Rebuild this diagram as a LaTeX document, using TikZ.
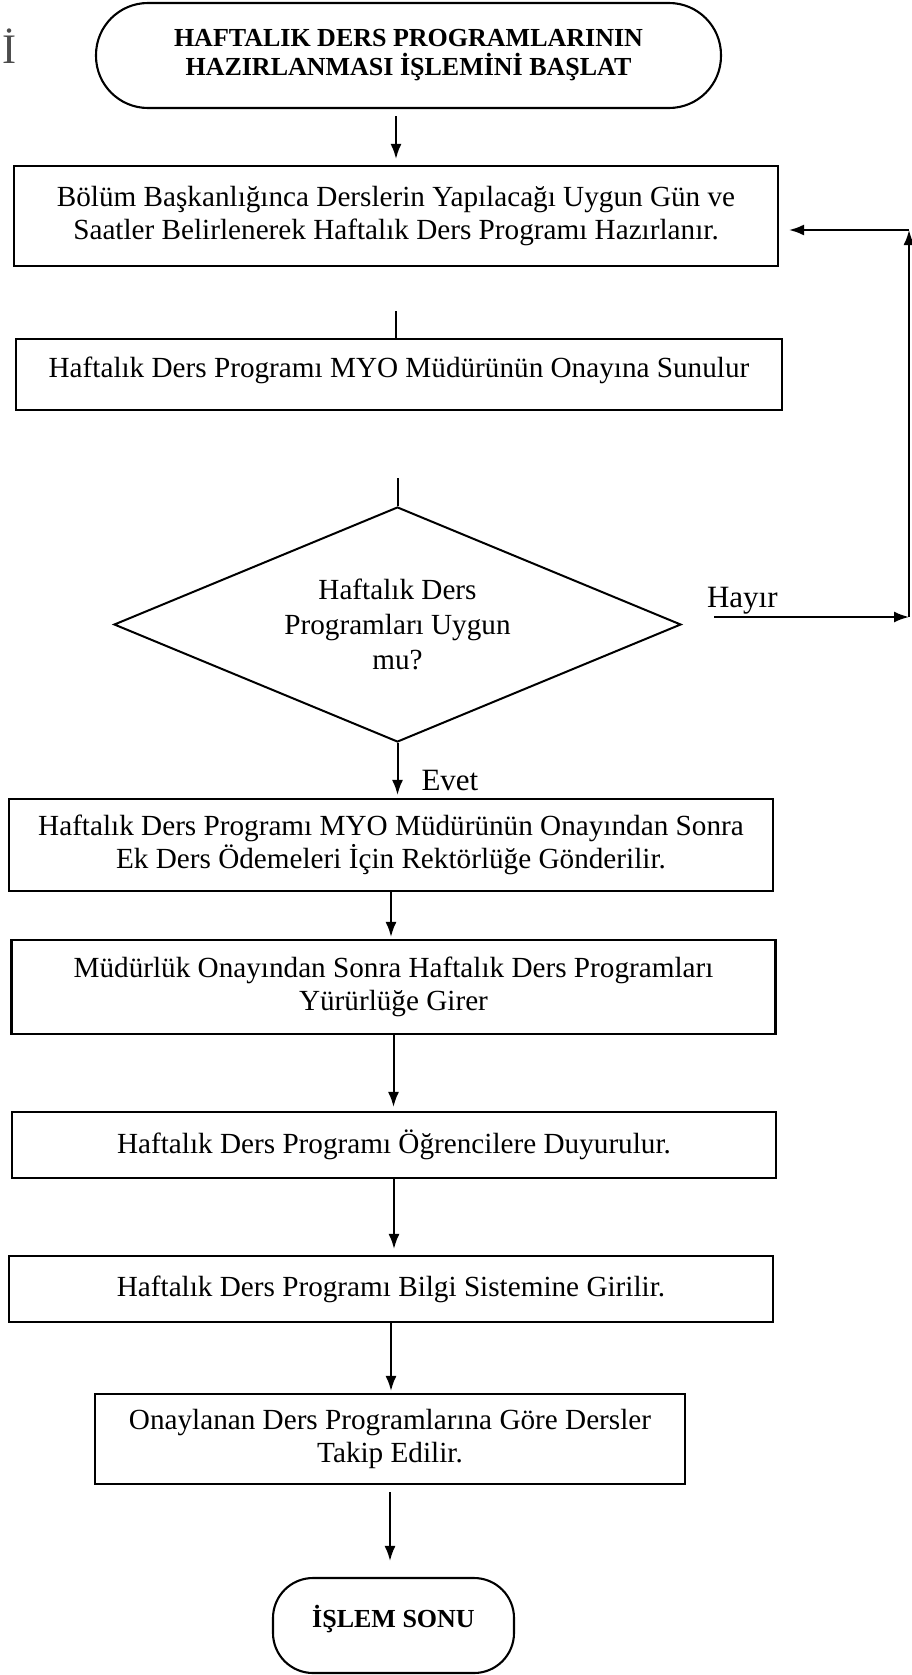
\documentclass[tikz,border=0pt]{standalone}
\usepackage{fontspec}
\setmainfont{Liberation Serif}
\usetikzlibrary{shapes.geometric,arrows.meta}

\tikzset{
    stepbox/.style={draw, line width=1.05pt, minimum width=382pt, align=center, inner sep=2pt, font=\fontsize{14.6}{16.8}\selectfont},
    terminal/.style={draw, line width=1.05pt, align=center, font=\fontsize{13}{14.5}\selectfont\bfseries},
    flow/.style={line width=1pt},
    arr/.style={flow, -{Latex[length=7.5pt,width=5.5pt]}},
    lbl/.style={font=\fontsize{15.5}{17}\selectfont, inner sep=0pt}
}

\begin{document}
\begin{tikzpicture}[x=0.5pt, y=-0.5pt]
        \useasboundingbox (0,0) rectangle (911,1675);

        \node[text=black!70, font=\fontsize{21}{21}\selectfont, inner sep=0pt] (stray) at (9,46) {İ};

        \node[terminal, minimum width=312.5pt, minimum height=52.5pt, rounded corners=26pt] (start) at (408.5,55.5) {HAFTALIK DERS PROGRAMLARININ\\HAZIRLANMASI İŞLEMİNİ BAŞLAT};

        \node[stepbox, minimum height=50pt] (prepare) at (396,216) {Bölüm Başkanlığınca Derslerin Yapılacağı Uygun Gün ve\\Saatler Belirlenerek Haftalık Ders Programı Hazırlanır.};

        \node[stepbox, minimum width=383pt, minimum height=35.5pt, text depth=7pt] (submit) at (399,374.5) {Haftalık Ders Programı MYO Müdürünün Onayına Sunulur};

        \node[draw, diamond, flow, aspect=2.4, minimum width=283.5pt, minimum height=117.5pt, inner sep=1pt, align=center, font=\fontsize{14.6}{17.5}\selectfont] (check) at (397.5,624.5) {Haftalık Ders\\Programları Uygun\\mu?};

        \node[stepbox, minimum height=46pt] (send) at (391,845) {Haftalık Ders Programı MYO Müdürünün Onayından Sonra\\Ek Ders Ödemeleri İçin Rektörlüğe Gönderilir.};

        \node[stepbox, minimum height=47pt] (enforce) at (393.5,987) {Müdürlük Onayından Sonra Haftalık Ders Programları\\Yürürlüğe Girer};

        \node[stepbox, minimum height=33pt] (announce) at (394,1145) {Haftalık Ders Programı Öğrencilere Duyurulur.};

        \node[stepbox, minimum height=33pt] (enter) at (391,1289) {Haftalık Ders Programı Bilgi Sistemine Girilir.};

        \node[stepbox, minimum width=295pt, minimum height=45pt] (follow) at (390,1439) {Onaylanan Ders Programlarına Göre Dersler\\Takip Edilir.};

        \node[terminal, minimum width=120.5pt, minimum height=47.5pt, rounded corners=20pt, text depth=9pt] (finish) at (393.5,1625.5) {İŞLEM SONU};

        \coordinate (loopin) at (909,617);
        \coordinate (loopout) at (909,230);

        \draw[arr, shorten <=3.5pt, shorten >=3pt] (start.south -| prepare.north) -- (prepare.north);
        \draw[flow, shorten <=22pt] (prepare.south) -- (submit.north -| prepare.south);
        \draw[flow, shorten <=33.5pt] (submit.south -| check.north) -- (check.north);
        \draw[arr, shorten >=1.5pt] (check.south) -- (check.south |- send.north)
            node[lbl, pos=1, anchor=base west, xshift=11.5pt, yshift=3.5pt] {Evet};
        \draw[arr] (check.east |- loopin) ++(32,0) -- (loopin)
            node[lbl, pos=0, anchor=base west, xshift=-4pt, yshift=5pt] {Hayır};
        \draw[arr] (loopin) -- (loopout);
        \draw[arr, shorten >=5pt] (loopout) -- (loopout -| prepare.east);
        \draw[arr, shorten >=1pt] (send.south) -- (send.south |- enforce.north);
        \draw[arr, shorten >=2pt] (enforce.south) -- (enforce.south |- announce.north);
        \draw[arr, shorten >=3pt] (announce.south) -- (announce.south |- enter.north);
        \draw[arr, shorten >=1pt] (enter.south) -- (enter.south |- follow.north);
        \draw[arr, shorten <=3.5pt, shorten >=8pt] (follow.south) -- (follow.south |- finish.north);
    \end{tikzpicture}
\end{document}
